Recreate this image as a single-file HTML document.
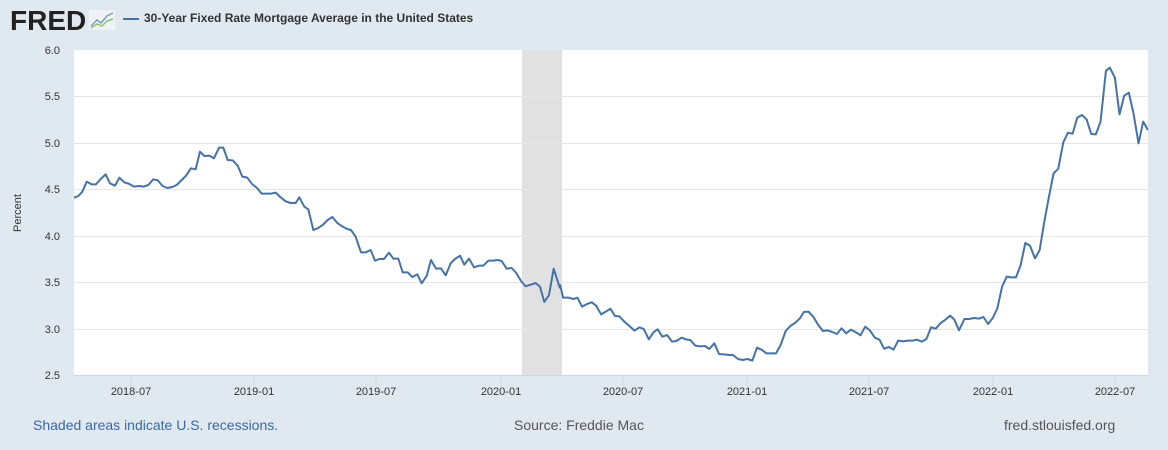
<!DOCTYPE html>
<html><head><meta charset="utf-8"><style>
body{margin:0;width:1168px;height:450px;background:#e1e9f0;font-family:"Liberation Sans",Arial,sans-serif;overflow:hidden;position:relative}
.t{position:absolute;white-space:nowrap}
</style></head><body>
<div class="t" style="left:10px;top:5px;font-size:28px;font-weight:bold;color:#222;letter-spacing:0px">FRED</div>
<svg class="t" style="left:89px;top:10px" width="26" height="20"><rect x="0" y="0" width="26" height="20" fill="#f0f3f5"/><polyline points="2,16 8,10 12,13 18,6 24,3" fill="none" stroke="#7a9cc6" stroke-width="1.5"/><polyline points="2,18 8,14 13,16 18,11 24,9" fill="none" stroke="#8cc36a" stroke-width="1.5"/></svg>
<div class="t" style="left:123px;top:18px;width:16px;height:2px;background:#4572a7"></div>
<div class="t" style="left:144px;top:11px;font-size:12px;font-weight:bold;color:#333">30-Year Fixed Rate Mortgage Average in the United States</div>
<svg class="t" style="left:0;top:0" width="1168" height="450">
<rect x="74" y="50" width="1074" height="325" fill="#fff"/>
<rect x="522" y="50" width="40" height="325" fill="#e1e1e1"/>
<g stroke="#e6e6e6" stroke-width="1">
<line x1="74" x2="1148" y1="96.5" y2="96.5"/><line x1="74" x2="1148" y1="143.5" y2="143.5"/><line x1="74" x2="1148" y1="189.5" y2="189.5"/><line x1="74" x2="1148" y1="236.5" y2="236.5"/><line x1="74" x2="1148" y1="282.5" y2="282.5"/><line x1="74" x2="1148" y1="329.5" y2="329.5"/>
</g>
<line x1="74" x2="1148" y1="375.5" y2="375.5" stroke="#ccd6eb"/>
<g stroke="#ccd6eb"><line x1="131" x2="131" y1="376" y2="386"/><line x1="254" x2="254" y1="376" y2="386"/><line x1="376" x2="376" y1="376" y2="386"/><line x1="501" x2="501" y1="376" y2="386"/><line x1="623" x2="623" y1="376" y2="386"/><line x1="747" x2="747" y1="376" y2="386"/><line x1="869" x2="869" y1="376" y2="386"/><line x1="993" x2="993" y1="376" y2="386"/><line x1="1115" x2="1115" y1="376" y2="386"/></g>
<g font-size="11" fill="#333" text-anchor="end">
<text x="60" y="54">6.0</text><text x="60" y="100">5.5</text><text x="60" y="147">5.0</text><text x="60" y="193">4.5</text><text x="60" y="240">4.0</text><text x="60" y="286">3.5</text><text x="60" y="333">3.0</text><text x="60" y="379">2.5</text>
</g>
<g font-size="11" fill="#333" text-anchor="middle">
<text x="131" y="395">2018-07</text><text x="254" y="395">2019-01</text><text x="376" y="395">2019-07</text><text x="501" y="395">2020-01</text><text x="623" y="395">2020-07</text><text x="747" y="395">2021-01</text><text x="869" y="395">2021-07</text><text x="993" y="395">2022-01</text><text x="1115" y="395">2022-07</text>
</g>
<text transform="translate(21,213) rotate(-90)" font-size="11" fill="#333" text-anchor="middle">Percent</text>
<g transform="translate(60,40) scale(0.33333)"><polyline vector-effect="non-scaling-stroke" fill="none" stroke="#4572a7" stroke-width="2" stroke-linejoin="round" points="42,473 55,468 67,455 80,425 95,433 108,433 122,417 137,403 150,430 165,437 178,413 193,427 208,432 222,440 237,438 250,440 265,435 280,418 293,421 308,438 322,444 337,441 350,435 365,420 378,407 393,385 407,388 420,335 433,348 448,347 462,355 477,323 490,323 503,360 518,361 533,377 547,410 562,413 577,433 590,443 605,461 620,461 633,461 647,458 662,472 677,484 692,489 707,489 718,472 733,500 745,508 760,570 773,565 788,555 803,540 817,531 832,549 848,560 862,567 873,570 887,590 903,637 917,637 932,630 945,662 958,657 972,657 987,638 1000,656 1015,656 1028,697 1043,697 1057,711 1072,703 1085,730 1100,708 1113,660 1128,686 1143,685 1157,706 1172,670 1185,657 1200,647 1213,674 1227,656 1242,682 1257,677 1270,677 1285,662 1300,662 1313,660 1325,663 1340,686 1355,684 1368,698 1383,723 1397,739 1412,734 1427,729 1440,740 1453,786 1467,765 1481,686 1500,745"/></g>
<g transform="translate(560,40) scale(0.38776,0.33333)"><polyline vector-effect="non-scaling-stroke" fill="none" stroke="#4572a7" stroke-width="2" stroke-linejoin="round" points="0,733 8,773 22,773 35,777 45,773 57,800 70,792 82,787 93,797 106,823 118,815 130,806 142,828 153,829 166,845 178,857 192,872 205,862 216,867 229,898 241,877 252,868 264,890 276,885 289,905 300,903 314,893 327,899 336,900 349,917 362,919 374,918 385,927 398,910 410,942 423,943 436,945 446,945 459,957 471,960 484,957 496,962 508,923 520,929 532,940 546,940 557,940 569,915 582,873 594,858 606,849 618,836 629,816 641,815 653,830 665,853 678,873 690,871 702,876 714,882 726,865 738,880 750,869 762,876 775,886 787,860 799,871 812,893 824,899 836,926 848,921 860,929 872,902 885,904 897,902 909,902 921,899 933,905 945,897 957,862 969,866 981,850 994,839 1006,827 1017,839 1029,871 1043,837 1055,837 1068,834 1080,836 1092,831 1104,852 1116,834 1128,805 1140,740 1152,710 1164,712 1176,712 1188,675 1200,609 1212,617 1225,655 1237,630 1249,545 1261,470 1273,400 1285,386 1298,307 1310,278 1322,281 1334,233 1346,225 1358,238 1370,282 1382,283 1394,245 1408,92 1418,83 1431,113 1443,223 1455,167 1467,158 1479,220 1492,310 1504,245 1516,270"/></g>
</svg>
<div class="t" style="left:33px;top:417px;font-size:14px;color:#3a68a8">Shaded areas indicate U.S. recessions.</div>
<div class="t" style="left:514px;top:417px;font-size:14px;color:#555">Source: Freddie Mac</div>
<div class="t" style="left:1004px;top:417px;font-size:14px;color:#555">fred.stlouisfed.org</div>
</body></html>
